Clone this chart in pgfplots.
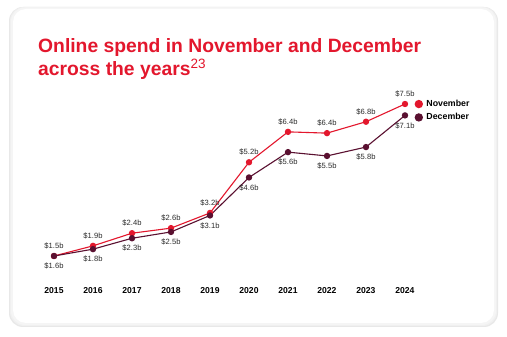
\documentclass[border=0pt]{standalone}
\usepackage{pgfplots}
\pgfplotsset{compat=1.18}
\usepackage{fontspec}
\setmainfont{Liberation Sans}
\definecolor{nov}{HTML}{E3172D}
\definecolor{dec}{HTML}{5A1030}
\definecolor{lab}{HTML}{2B2B2B}
\begin{document}
\begin{tikzpicture}
% page
\fill[white] (0pt,0pt) rectangle (507pt,337pt);
% card shadow
\fill[black!9, rounded corners=14pt] (9pt,10pt) rectangle (498pt,330pt);
\fill[black!6, rounded corners=14pt] (10pt,11pt) rectangle (497pt,330pt);
\fill[black!4, rounded corners=14pt] (11pt,12pt) rectangle (496pt,329.5pt);
\fill[white, rounded corners=13pt] (13pt,14pt) rectangle (494pt,328pt);
% title
\node[anchor=base west, inner sep=0, text=nov, font=\fontsize{19.3}{23}\selectfont\bfseries] at (38pt,284pt) {Online spend in November and December};
\node[anchor=base west, inner sep=0, text=nov, font=\fontsize{19.3}{23}\selectfont\bfseries] at (38pt,261pt) {across the years\textsuperscript{\mdseries 23}};
\begin{axis}[
  at={(54pt,81pt)}, anchor=south west,
  scale only axis, width=351pt, height=152pt,
  xmin=2015, xmax=2024, ymin=1.5, ymax=7.5,
  clip=false,
  axis line style={draw=none},
  ytick=\empty,
  xtick={2015,...,2024},
  xticklabels={2015,2016,2017,2018,2019,2020,2021,2022,2023,2024},
  major tick length=0pt,
  xticklabel style={font=\fontsize{8.6}{10}\selectfont\bfseries, text=black, anchor=center, yshift=-35pt},
  legend style={at={(1.027,1.04)}, anchor=north west, draw=none, fill=none, inner sep=0pt,
    font=\fontsize{8.8}{10}\selectfont\bfseries, text=black, row sep=1.5pt,
    /tikz/every odd column/.style={column sep=1.5pt}},
  legend cell align=left,
  legend image code/.code={\fill (0pt,0pt) circle (3.6pt);},
  nodes near coords,
  point meta=explicit symbolic,
  every node near coord/.append style={font=\fontsize{7.6}{8}\selectfont, text=lab, inner sep=0pt},
]
\addplot[color=nov, line width=1.1pt, mark=*, mark size=2.6pt,
  every node near coord/.append style={anchor=south, yshift=6.5pt}]
  coordinates {
  (2015,1.5) [\$1.5b]
  (2016,1.9) [\$1.9b]
  (2017,2.4) [\$2.4b]
  (2018,2.6) [\$2.6b]
  (2019,3.2) [\$3.2b]
  (2020,5.2) [\$5.2b]
  (2021,6.4) [\$6.4b]
  (2022,6.35) [\$6.4b]
  (2023,6.8) [\$6.8b]
  (2024,7.5) [\$7.5b]
  };
\addlegendentry{November}
\addplot[color=dec, line width=1.1pt, mark=*, mark size=2.6pt,
  every node near coord/.append style={anchor=north, yshift=-6.5pt}]
  coordinates {
  (2015,1.5) [\$1.6b]
  (2016,1.77) [\$1.8b]
  (2017,2.2) [\$2.3b]
  (2018,2.45) [\$2.5b]
  (2019,3.1) [\$3.1b]
  (2020,4.6) [\$4.6b]
  (2021,5.6) [\$5.6b]
  (2022,5.45) [\$5.5b]
  (2023,5.8) [\$5.8b]
  (2024,7.05) [\$7.1b]
  };
\addlegendentry{December}
\end{axis}
\end{tikzpicture}
\end{document}
